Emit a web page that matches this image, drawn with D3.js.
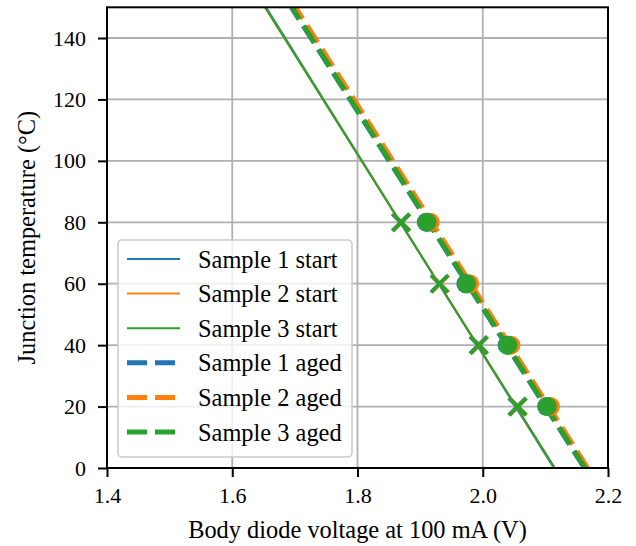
<!DOCTYPE html>
<html>
<head>
<meta charset="utf-8">
<script src="https://cdn.jsdelivr.net/npm/d3@7"></script>
<style>
  body { margin: 0; background: #fff; }
  svg { display: block; }
  svg text { font-family: "Liberation Serif", "DejaVu Serif", serif; }
</style>
</head>
<body>
<svg id="chart" width="636" height="546"></svg>
<script>
// temperatures of the measured points
const measTemps = [20, 40, 60, 80];
// fitted lines, voltage at T = 0 and T = 150
const fitTemps = [0, 150];
const s1StartFit = [2.1135, 1.654];
const s2StartFit = [2.1148, 1.6525];
const s3StartFit = [2.115, 1.6523];
const s1AgedFit = [2.1625, 1.6945];
const s2AgedFit = [2.1675, 1.701];
const s3AgedFit = [2.1633, 1.6954];
// measured points (V) at measTemps
const s1StartPts = [2.055, 1.993, 1.931, 1.869];
const s2StartPts = [2.056, 1.994, 1.932, 1.870];
const s3StartPts = [2.056, 1.994, 1.931, 1.870];
const s1AgedPts = [2.102, 2.039, 1.973, 1.910];
const s2AgedPts = [2.108, 2.045, 1.979, 1.916];
const s3AgedPts = [2.103, 2.040, 1.974, 1.911];

const xTicks = [1.4, 1.6, 1.8, 2.0, 2.2];
const yTicks = [0, 20, 40, 60, 80, 100, 120, 140];
const colors = ["#1f77b4", "#ff7f0e", "#2ca02c"];
const legendLabels = ["Sample 1 start", "Sample 2 start", "Sample 3 start",
                      "Sample 1 aged", "Sample 2 aged", "Sample 3 aged"];

const svg = d3.select("#chart");
const pl = 107, pr = 608, pt = 7.3, pb = 468;

const x = d3.scaleLinear().domain([1.4, 2.2]).range([pl, pr]);
const y = d3.scaleLinear().domain([0, 150]).range([pb, pt]);

svg.append("clipPath").attr("id", "clip")
  .append("rect").attr("x", pl).attr("y", pt)
  .attr("width", pr - pl).attr("height", pb - pt);

// grid
const grid = svg.append("g").attr("stroke", "#b0b0b0").attr("stroke-width", 1.8);
grid.selectAll("line.vx").data(xTicks).join("line")
  .attr("x1", d => x(d)).attr("x2", d => x(d)).attr("y1", pt).attr("y2", pb);
grid.selectAll("line.hy").data(yTicks).join("line")
  .attr("y1", d => y(d)).attr("y2", d => y(d)).attr("x1", pl).attr("x2", pr);

const plot = svg.append("g").attr("clip-path", "url(#clip)");

const line = d3.line().x(d => x(d[0])).y(d => y(d[1]));
const fitPts = v => fitTemps.map((t, i) => [v[i], t]);

const startFits = [s1StartFit, s2StartFit, s3StartFit];
const agedFits = [s1AgedFit, s2AgedFit, s3AgedFit];
const startPts = [s1StartPts, s2StartPts, s3StartPts];
const agedPts = [s1AgedPts, s2AgedPts, s3AgedPts];

startFits.forEach((f, i) => {
  plot.append("path").attr("d", line(fitPts(f)))
    .attr("fill", "none").attr("stroke", colors[i]).attr("stroke-width", 2);
});
agedFits.forEach((f, i) => {
  plot.append("path").attr("d", line(fitPts(f)))
    .attr("fill", "none").attr("stroke", colors[i]).attr("stroke-width", 5)
    .attr("stroke-dasharray", "20,8");
});

// markers
const xs = 8.5;
startPts.forEach((pts, i) => {
  svg.append("g").selectAll("path").data(pts).join("path")
    .attr("d", (v, j) => {
      const cx = x(v), cy = y(measTemps[j]);
      return `M${cx - xs},${cy - xs}L${cx + xs},${cy + xs}M${cx - xs},${cy + xs}L${cx + xs},${cy - xs}`;
    })
    .attr("stroke", colors[i]).attr("stroke-width", 3.8).attr("fill", "none");
});
agedPts.forEach((pts, i) => {
  svg.append("g").selectAll("circle").data(pts).join("circle")
    .attr("cx", v => x(v)).attr("cy", (v, j) => y(measTemps[j]))
    .attr("r", 9.5).attr("fill", colors[i]);
});

// axes
const xAxis = svg.append("g").attr("transform", `translate(0,${pb})`)
  .call(d3.axisBottom(x).tickValues(xTicks).tickFormat(d3.format(".1f")).tickSize(9).tickPadding(10));
const yAxis = svg.append("g").attr("transform", `translate(${pl},0)`)
  .call(d3.axisLeft(y).tickValues(yTicks).tickSize(9).tickPadding(12));
[xAxis, yAxis].forEach(a => {
  a.attr("font-size", 22).attr("font-family", "Liberation Serif");
  a.select(".domain").remove();
  a.selectAll(".tick line").attr("stroke", "#000").attr("stroke-width", 2);
  a.selectAll(".tick text").attr("fill", "#000").attr("font-size", 22);
});

// frame
svg.append("rect").attr("x", pl).attr("y", pt)
  .attr("width", pr - pl).attr("height", pb - pt)
  .attr("fill", "none").attr("stroke", "#000").attr("stroke-width", 2);

// axis labels
svg.append("text").attr("x", (pl + pr) / 2).attr("y", 538)
  .attr("text-anchor", "middle").attr("font-size", 24.4).text("Body diode voltage at 100 mA (V)");
svg.append("text").attr("transform", `translate(35,${(pt + pb) / 2}) rotate(-90)`)
  .attr("text-anchor", "middle").attr("font-size", 24.4).text("Junction temperature (°C)");

// legend
const lg = svg.append("g");
lg.append("rect").attr("x", 118).attr("y", 240).attr("width", 234).attr("height", 217)
  .attr("rx", 4).attr("fill", "#fff").attr("fill-opacity", 0.8)
  .attr("stroke", "#cccccc").attr("stroke-width", 1.6);
legendLabels.forEach((lab, i) => {
  const cy = 259 + i * 34.6;
  const c = colors[i % 3];
  const aged = i >= 3;
  lg.append("line").attr("x1", 127).attr("x2", 180).attr("y1", cy).attr("y2", cy)
    .attr("stroke", c).attr("stroke-width", aged ? 5 : 2)
    .attr("stroke-dasharray", aged ? "20,8" : null);
  lg.append("text").attr("x", 198).attr("y", cy).attr("dy", "0.35em")
    .attr("font-size", 24.4).text(lab);
});
</script>
</body>
</html>
